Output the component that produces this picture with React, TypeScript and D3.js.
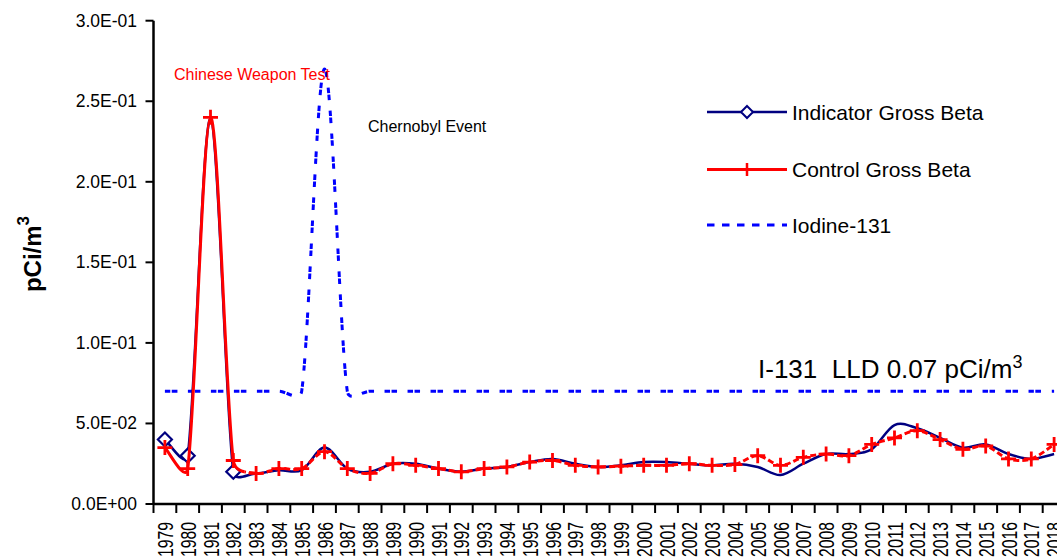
import React from "react";
import * as d3 from "d3";

const years = ["1979","1980","1981","1982","1983","1984","1985","1986","1987","1988","1989","1990","1991","1992","1993","1994","1995","1996","1997","1998","1999","2000","2001","2002","2003","2004","2005","2006","2007","2008","2009","2010","2011","2012","2013","2014","2015","2016","2017","2018"];

const indicator = [0.040,0.030,0.239,0.020,0.019,0.021,0.021,0.035,0.022,0.020,0.025,0.025,0.022,0.020,0.022,0.023,0.026,0.028,0.025,0.023,0.024,0.026,0.026,0.025,0.024,0.025,0.023,0.018,0.025,0.031,0.031,0.034,0.049,0.047,0.041,0.035,0.037,0.031,0.028,0.031];

const control = [0.035,0.022,0.240,0.027,0.019,0.022,0.022,0.0325,0.022,0.019,0.025,0.024,0.022,0.020,0.022,0.023,0.026,0.027,0.024,0.023,0.0235,0.024,0.024,0.025,0.024,0.0245,0.030,0.024,0.029,0.031,0.030,0.037,0.041,0.0455,0.040,0.034,0.036,0.028,0.028,0.037];

const iodine = [0.07,0.07,0.07,0.07,0.07,0.07,0.07,0.27,0.07,0.07,0.07,0.07,0.07,0.07,0.07,0.07,0.07,0.07,0.07,0.07,0.07,0.07,0.07,0.07,0.07,0.07,0.07,0.07,0.07,0.07,0.07,0.07,0.07,0.07,0.07,0.07,0.07,0.07,0.07,0.07];

// years where the indicator diamond marker is visible
const indicatorMarkerYears = ["1979","1980","1982"];

const yTicks = [0, 0.05, 0.1, 0.15, 0.2, 0.25, 0.3];
const yTickLabels = ["0.0E+00","5.0E-02","1.0E-01","1.5E-01","2.0E-01","2.5E-01","3.0E-01"];

const seriesNames = ["Indicator Gross Beta", "Control Gross Beta", "Iodine-131"];

const W = 1057, H = 558;
const FONT = "'Liberation Sans', Arial, sans-serif";

// Excel-like smoothed line: Catmull-Rom bezier handles, each limited to half of its segment
function smoothPath(pts: [number, number][]): string {
  const p = d3.path();
  if (!pts.length) return "";
  p.moveTo(pts[0][0], pts[0][1]);
  const lim = (h: [number, number], max: number): [number, number] => {
    const l = Math.hypot(h[0], h[1]);
    if (l > max && l > 0) return [(h[0] * max) / l, (h[1] * max) / l];
    return h;
  };
  for (let i = 0; i < pts.length - 1; i++) {
    const P0 = pts[i - 1] || pts[i];
    const P1 = pts[i];
    const P2 = pts[i + 1];
    const P3 = pts[i + 2] || pts[i + 1];
    const seg = Math.hypot(P2[0] - P1[0], P2[1] - P1[1]);
    const h1 = lim([(P2[0] - P0[0]) / 6, (P2[1] - P0[1]) / 6], seg * 0.5);
    const h2 = lim([(P3[0] - P1[0]) / 6, (P3[1] - P1[1]) / 6], seg * 0.5);
    p.bezierCurveTo(P1[0] + h1[0], P1[1] + h1[1], P2[0] - h2[0], P2[1] - h2[1], P2[0], P2[1]);
  }
  return p.toString();
}

export default function App() {
  const x = d3.scaleBand<string>().domain(years).range([153.5, 153.5 + 40 * 22.8]);
  const cx = (yr: string) => (x(yr) as number) + x.bandwidth() / 2;
  const y = d3.scaleLinear().domain([0, 0.3]).range([504, 20.7]);

  const toPts = (vals: number[]) => vals.map((v, i) => [cx(years[i]), y(v)] as [number, number]);

  const splitX = x("1983") as number;

  const legendX0 = 707, legendX1 = 787, legendMid = 747;
  const legendY = [112, 169.5, 225];

  const controlD = smoothPath(toPts(control));

  return (
    <svg width={W} height={H} style={{ position: "absolute", left: 0, top: 0, background: "#fff" }} fontFamily={FONT}>
      <defs>
        <clipPath id="leftClip"><rect x={0} y={0} width={splitX} height={H} /></clipPath>
        <clipPath id="rightClip"><rect x={splitX} y={0} width={W - splitX} height={H} /></clipPath>
      </defs>
      <rect x={0} y={0} width={W} height={H} fill="#fff" />

      {/* Y axis */}
      <line x1={153.5} x2={153.5} y1={y(0.3)} y2={y(0)} stroke="#000" strokeWidth={2.5} />
      {yTicks.map((t, i) => (
        <g key={t}>
          <line x1={145.5} x2={153.5} y1={y(t)} y2={y(t)} stroke="#000" strokeWidth={2} />
          <text x={137} y={y(t) + 6} textAnchor="end" fontSize={17.5} fill="#000">{yTickLabels[i]}</text>
        </g>
      ))}

      {/* X axis */}
      <line x1={153.5} x2={x.range()[1]} y1={y(0)} y2={y(0)} stroke="#000" strokeWidth={2.5} />
      {years.map((yr) => (
        <line key={"t" + yr} x1={x(yr) as number} x2={x(yr) as number} y1={y(0)} y2={y(0) + 9} stroke="#000" strokeWidth={2} />
      ))}
      {years.map((yr) => (
        <text
          key={"l" + yr}
          transform={`translate(${cx(yr) + 8},522) rotate(-90)`}
          textAnchor="end"
          fontSize={22}
          textLength={35}
          lengthAdjust="spacingAndGlyphs"
          fill="#000"
        >{yr}</text>
      ))}

      {/* Y title */}
      <text transform="translate(41,254) rotate(-90)" textAnchor="middle" fontSize={24} fontWeight="bold" fill="#000">
        pCi/m<tspan fontSize={17} dy={-12}>3</tspan>
      </text>

      {/* Iodine-131 */}
      <path d={smoothPath(toPts(iodine))} fill="none" stroke="#0000FF" strokeWidth={3} strokeDasharray="5.5,1.5,5.5,10.5" />

      {/* Indicator */}
      <path d={smoothPath(toPts(indicator))} fill="none" stroke="#000080" strokeWidth={2.5} />
      {years.map((yr, i) =>
        indicatorMarkerYears.includes(yr) ? (
          <path
            key={"d" + yr}
            d={`M${cx(yr)},${y(indicator[i]) - 7}L${cx(yr) + 7},${y(indicator[i])}L${cx(yr)},${y(indicator[i]) + 7}L${cx(yr) - 7},${y(indicator[i])}Z`}
            fill="#fff"
            stroke="#000080"
            strokeWidth={2.2}
          />
        ) : null
      )}

      {/* Control */}
      <path d={controlD} fill="none" stroke="#FF0000" strokeWidth={3} clipPath="url(#leftClip)" />
      <path d={controlD} fill="none" stroke="#FF0000" strokeWidth={3} strokeDasharray="6,3" clipPath="url(#rightClip)" />
      {years.map((yr, i) => (
        <path
          key={"p" + yr}
          d={`M${cx(yr) - 7.5},${y(control[i])}H${cx(yr) + 7.5}M${cx(yr)},${y(control[i]) - 7.5}V${y(control[i]) + 7.5}`}
          stroke="#FF0000"
          strokeWidth={2.8}
          fill="none"
        />
      ))}

      {/* Annotations */}
      <text x={174} y={80} fontSize={16} fill="#FF0000">Chinese Weapon Test</text>
      <text x={368} y={132} fontSize={16} fill="#000">Chernobyl Event</text>
      <text x={758} y={378} fontSize={26} fill="#000">
        I-131{"\u00A0\u00A0"}LLD 0.07 pCi/m<tspan fontSize={18} dy={-10}>3</tspan>
      </text>

      {/* Legend */}
      <line x1={legendX0} x2={legendX1} y1={legendY[0]} y2={legendY[0]} stroke="#000080" strokeWidth={2.5} />
      <path d={`M${legendMid},${legendY[0] - 6}L${legendMid + 6},${legendY[0]}L${legendMid},${legendY[0] + 6}L${legendMid - 6},${legendY[0]}Z`} fill="#fff" stroke="#000080" strokeWidth={2} />
      <line x1={legendX0} x2={legendX1} y1={legendY[1]} y2={legendY[1]} stroke="#FF0000" strokeWidth={3} />
      <path d={`M${legendMid - 6.5},${legendY[1]}H${legendMid + 6.5}M${legendMid},${legendY[1] - 6.5}V${legendY[1] + 6.5}`} stroke="#FF0000" strokeWidth={2.5} />
      <line x1={legendX0} x2={legendX1} y1={legendY[2]} y2={legendY[2]} stroke="#0000FF" strokeWidth={3} strokeDasharray="7.5,7.5" />
      {seriesNames.map((n, i) => (
        <text key={n} x={792} y={legendY[i] + 7.5} fontSize={21} fill="#000">{n}</text>
      ))}
    </svg>
  );
}
